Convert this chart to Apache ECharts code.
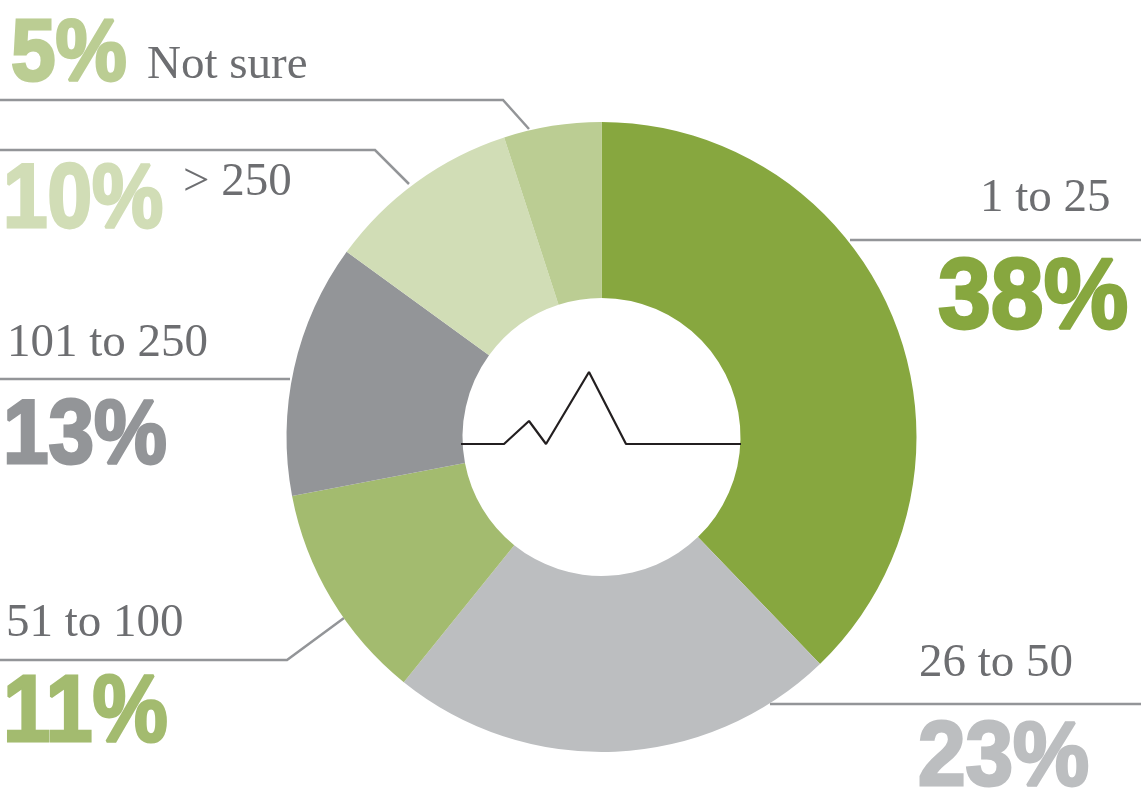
<!DOCTYPE html>
<html>
<head>
<meta charset="utf-8">
<title>Donut</title>
<style>
html, body { margin: 0; padding: 0; background: #fff; }
#main { width: 1141px; height: 801px; }
</style>
<script src="https://cdn.jsdelivr.net/npm/echarts@6/dist/echarts.min.js"></script>
</head>
<body>
<div id="main"></div>
<script>
var categories = ["1 to 25", "26 to 50", "51 to 100", "101 to 250", "> 250", "Not sure"];
var percents = [38, 23, 11, 13, 10, 5];
// slice sizes as drawn, they differ a little from the printed percents
var sliceValues = [37.8, 23, 11.2, 13, 10, 5];
// heartbeat trace in the hole of the donut
var traceX = [0, 43, 68, 85, 128, 165, 280];
var traceY = [0, 0, 23, 0, 72, 0, 0];

var colors = ["#87a73f", "#bcbec0", "#a3bb6f", "#939598", "#d1ddb6", "#bbcd93"];
var labelColor = "#6d6e71";
var lineColor = "#939598";

// [name x, name y, percent x, percent y, percent size, percent x scale], y is the middle of the text
var labelPos = [
    [980, 199, 938, 300, 100, 0.95],
    [919, 664, 918, 760, 90, 0.95],
    [6, 624, 3, 715, 94, 0.9],
    [7, 344, 3, 438, 90, 0.91],
    [183, 183, 3, 202, 90, 0.89],
    [147, 66, 11, 56, 88, 0.91]
];
var leaders = [
    [[850, 240], [1141, 240]],
    [[770, 704], [1141, 704]],
    [[0, 660], [287, 660], [344, 618]],
    [[0, 379], [290, 379]],
    [[0, 150], [375, 150], [409, 184]],
    [[0, 100], [503, 100], [529, 129]]
];

var graphics = [];
leaders.forEach(function (pts) {
    graphics.push({
        type: "polyline",
        shape: { points: pts },
        style: { stroke: lineColor, lineWidth: 2.5, fill: null }
    });
});
categories.forEach(function (name, i) {
    var p = labelPos[i];
    graphics.push({
        type: "text",
        x: p[0],
        y: p[1],
        style: {
            text: name,
            fill: labelColor,
            font: "47px 'Liberation Serif'",
            verticalAlign: "middle"
        }
    });
    graphics.push({
        type: "text",
        x: p[2],
        y: p[3],
        scaleX: p[5],
        style: {
            text: percents[i] + "%",
            fill: colors[i],
            stroke: colors[i],
            lineWidth: 3,
            font: "bold " + p[4] + "px 'Liberation Sans'",
            verticalAlign: "middle"
        }
    });
});

var myChart = echarts.init(document.getElementById("main"), null, { renderer: "canvas" });
myChart.setOption({
    animation: false,
    backgroundColor: "#fff",
    graphic: graphics,
    grid: { left: 461, top: 372, width: 280, height: 72 },
    xAxis: { type: "value", min: 0, max: 280, show: false },
    yAxis: { type: "value", min: 0, max: 72, show: false },
    series: [{
        type: "pie",
        center: [601.5, 437],
        radius: [139, 315],
        startAngle: 90,
        clockwise: true,
        silent: true,
        label: { show: false },
        labelLine: { show: false },
        itemStyle: { borderWidth: 0 },
        data: categories.map(function (name, i) {
            return { name: name, value: sliceValues[i], itemStyle: { color: colors[i] } };
        })
    }, {
        type: "line",
        silent: true,
        symbol: "none",
        lineStyle: { color: "#231f20", width: 2.2 },
        data: traceX.map(function (x, i) {
            return [x, traceY[i]];
        })
    }]
});
</script>
</body>
</html>
